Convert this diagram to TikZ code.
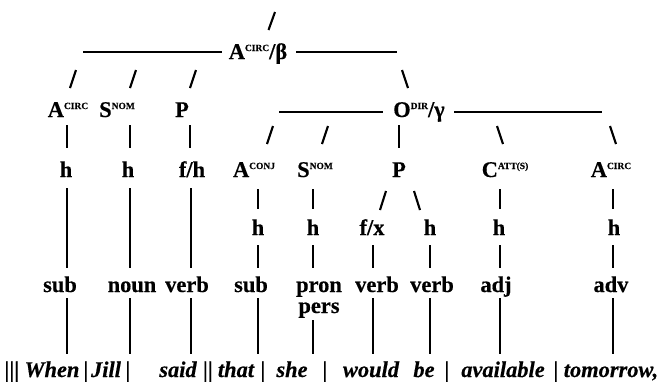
\documentclass[tikz,border=0pt]{standalone}
\usepackage{fontspec}
\setmainfont{Liberation Serif}
\newcommand{\labfont}{\fontsize{22.5}{22.5}\selectfont\bfseries\addfontfeature{FakeBold=0.4}}
\newcommand{\sentfont}{\fontsize{22.5}{22.5}\selectfont\bfseries\itshape\addfontfeature{FakeBold=0.4}}
\newcommand{\smallsup}[1]{\raisebox{8bp}{\fontsize{9.5}{9.5}\selectfont\bfseries #1}}
\tikzset{
  lab/.style={inner sep=0pt, anchor=base, font=\labfont},
  word/.style={inner sep=0pt, anchor=base, font=\sentfont},
  hline/.style={line width=1.5bp},
  conn/.style={line width=1.8bp},
  slashmark/.style={line width=2.1bp},
}
\begin{document}
\begin{tikzpicture}[x=1bp,y=-1bp]
\useasboundingbox (0,0) rectangle (668,385);
% ---- labels ----
\node[lab] (top) at (258,59) {A\smallsup{CIRC}/β};
\node[lab] (a1) at (68,117) {A\smallsup{CIRC}};
\node[lab] (s1) at (117,117) {S\smallsup{NOM}};
\node[lab] (p1) at (182,117) {P};
\node[lab] (o1) at (419,117) {O\smallsup{DIR}/γ};
\node[lab] (h1) at (66,177) {h};
\node[lab] (h2) at (128,177) {h};
\node[lab] (fh) at (192,177) {f/h};
\node[lab] (a2) at (254,177) {A\smallsup{CONJ}};
\node[lab] (s2) at (315,177) {S\smallsup{NOM}};
\node[lab] (p2) at (399,177) {P};
\node[lab] (c2) at (505,177) {C\smallsup{ATT(S)}};
\node[lab] (a3) at (611,177) {A\smallsup{CIRC}};
\node[lab] (h3) at (258,235) {h};
\node[lab] (h4) at (313,235) {h};
\node[lab] (fx) at (372,235) {f/x};
\node[lab] (h5) at (430,235) {h};
\node[lab] (h6) at (499,235) {h};
\node[lab] (h7) at (614,235) {h};
\node[lab] (w1) at (60,292) {sub};
\node[lab] (w2) at (132,292) {noun};
\node[lab] (w3) at (187,292) {verb};
\node[lab] (w4) at (251,292) {sub};
\node[lab] (w5) at (319,292) {pron};
\node[lab] (w5b) at (319,313) {pers};
\node[lab] (w6) at (377,292) {verb};
\node[lab] (w7) at (432,292) {verb};
\node[lab] (w8) at (496,292) {adj};
\node[lab] (w9) at (611,292) {adv};
% ---- sentence ----
\node[word] (t0) at (12,377) {|||};
\node[word] (t1) at (52,377) {When};
\node[word] (t2) at (86,377) {|};
\node[word] (t3) at (106,377) {Jill};
\node[word] (t4) at (128,377) {|};
\node[word] (t5) at (178,377) {said};
\node[word] (t6) at (208,377) {||};
\node[word] (t7) at (236,377) {that};
\node[word] (t8) at (263,377) {|};
\node[word] (t9) at (292,377) {she};
\node[word] (t10) at (325,377) {|};
\node[word] (t11) at (371,377) {would};
\node[word] (t12) at (424,377) {be};
\node[word] (t13) at (447,377) {|};
\node[word] (t14) at (503,377) {available};
\node[word] (t15) at (556,377) {|};
\node[word] (t16) at (611,377) {tomorrow,};
% ---- horizontal lines ----
\coordinate (l0) at (83,52);
\coordinate (r0) at (397,52);
\coordinate (l1) at (279,112);
\coordinate (r1) at (602,112);
\draw[hline] (l0) -- (222,52);
\draw[hline] (296,52) -- (r0);
\draw[hline] (l1) -- (383,112);
\draw[hline] (454,112) -- (r1);
% ---- slash marks ----
\draw[slashmark] (268.5,30) -- (275,12);
\draw[slashmark] (70,88) -- (76,70);
\draw[slashmark] (130,88) -- (136,70);
\draw[slashmark] (190,88) -- (196,70);
\draw[slashmark] (402,70) -- (408,88);
\draw[slashmark] (267,144) -- (273,126);
\draw[slashmark] (322,144) -- (328,126);
\draw[slashmark] (497,126) -- (503,144);
\draw[slashmark] (610,126) -- (616,144);
\draw[slashmark] (380,210) -- (386,191);
\draw[slashmark] (414,191) -- (420,210);
% ---- vertical ticks ----
\foreach \x in {67,130,190,399} \draw[conn] (\x,125) -- (\x,148);
\foreach \x in {67,130,191} \draw[conn] (\x,188) -- (\x,268);
\foreach \x in {258,313,500,613} \draw[conn] (\x,189) -- (\x,209);
\foreach \x in {258,313,373,430,500,613} \draw[conn] (\x,245) -- (\x,268);
\foreach \x in {67,130,191,258,373,430,500,613} \draw[conn] (\x,298) -- (\x,354);
\draw[conn] (313,320) -- (313,354);
\end{tikzpicture}
\end{document}
